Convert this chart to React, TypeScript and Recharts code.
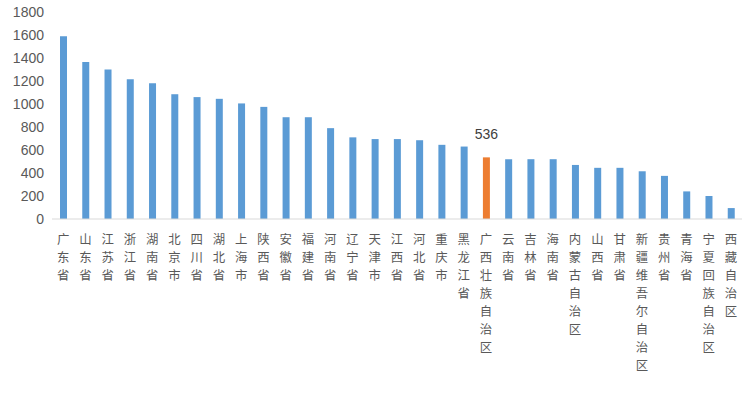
import React from 'react';
import { BarChart, Bar, XAxis, YAxis, Cell, LabelList } from 'recharts';

const provinces = [
  '广东省', '山东省', '江苏省', '浙江省', '湖南省', '北京市', '四川省', '湖北省', '上海市', '陕西省',
  '安徽省', '福建省', '河南省', '辽宁省', '天津市', '江西省', '河北省', '重庆市', '黑龙江省', '广西壮族自治区',
  '云南省', '吉林省', '海南省', '内蒙古自治区', '山西省', '甘肃省', '新疆维吾尔自治区', '贵州省', '青海省', '宁夏回族自治区',
  '西藏自治区',
];

const values = [
  1590, 1365, 1300, 1215, 1180, 1085, 1060, 1045, 1005, 975,
  885, 885, 790, 710, 695, 695, 685, 645, 630, 536,
  520, 520, 520, 470, 445, 445, 415, 375, 240, 200,
  95,
];

const highlighted = '广西壮族自治区';
const yTicks = [0, 200, 400, 600, 800, 1000, 1200, 1400, 1600, 1800];

const data = provinces.map((name, i) => ({ name, value: values[i] }));

const VerticalTick = (props: any) => {
  const { x, y, payload } = props;
  const chars = String(payload.value).split('');
  return (
    <text
      x={x}
      y={y}
      textAnchor="middle"
      fill="#595959"
      fontSize={12.4}
      fontFamily="'Noto Sans CJK SC', sans-serif"
    >
      {chars.map((c, i) => (
        <tspan key={i} x={x} dy={i === 0 ? 17 : 18}>
          {c}
        </tspan>
      ))}
    </text>
  );
};

const HighlightLabel = (props: any) => {
  const { x, y, width, value, index } = props;
  if (provinces[index] !== highlighted) return null;
  return (
    <text
      x={x + width / 2}
      y={y - 18}
      textAnchor="middle"
      fill="#404040"
      fontSize={14}
      fontFamily="'Liberation Sans', sans-serif"
    >
      {value}
    </text>
  );
};

export default function App() {
  return (
    <div style={{ position: 'absolute', left: 0, top: 0, width: 748, height: 394, background: '#fff' }}>
      <BarChart
        width={748}
        height={394}
        data={data}
        margin={{ top: 12, right: 6, bottom: 5, left: 0 }}
      >
        <XAxis
          dataKey="name"
          interval={0}
          tickLine={false}
          axisLine={{ stroke: '#D9D9D9' }}
          height={170}
          tick={<VerticalTick />}
        />
        <YAxis
          width={52}
          domain={[0, 1800]}
          ticks={yTicks}
          axisLine={false}
          tickLine={false}
          tick={{ fill: '#595959', fontSize: 14, fontFamily: "'Liberation Sans', sans-serif" }}
        />
        <Bar dataKey="value" barSize={7} isAnimationActive={false}>
          {data.map((d, i) => (
            <Cell key={i} fill={d.name === highlighted ? '#ED7D31' : '#5B9BD5'} />
          ))}
          <LabelList dataKey="value" content={<HighlightLabel />} />
        </Bar>
      </BarChart>
    </div>
  );
}
